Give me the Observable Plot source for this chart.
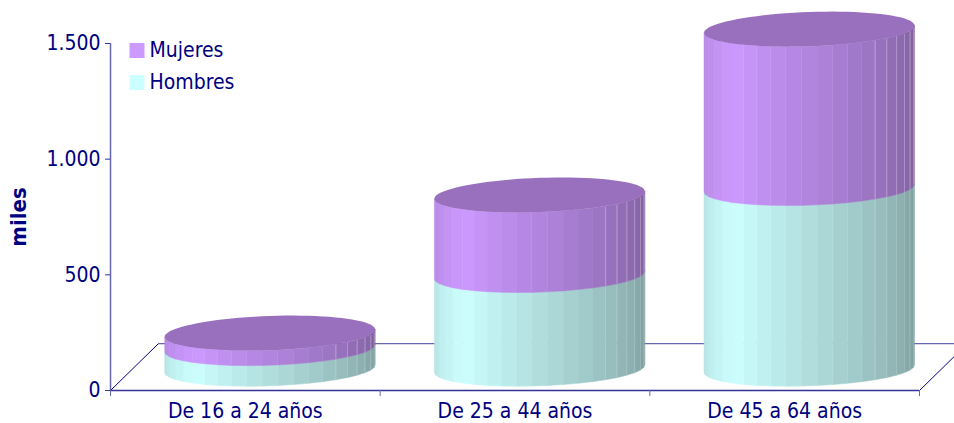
<!DOCTYPE html>
<html>
<head>
<meta charset="utf-8">
<script src="https://cdn.jsdelivr.net/npm/d3@7"></script>
<script src="https://cdn.jsdelivr.net/npm/@observablehq/plot@0.6"></script>
<style>html,body{margin:0;padding:0;background:#fff;overflow:hidden}svg{display:block}</style>
</head>
<body>
<div id="chart"></div>
<script>
const categories = ["De 16 a 24 años", "De 25 a 44 años", "De 45 a 64 años"];
const hombres = [89, 405, 781];
const mujeres = [65, 346, 687];
const yTicks = [0, 500, 1000, 1500];
const seriesNames = ["Mujeres", "Hombres"];
const seriesColors = ["#CC99FF", "#CCFFFF"];
const yLabel = "miles";

// 3-D projection constants, in scale units
const depthX = 0.178, depthY = 203, radius = 0.39, floorLift = 92, ry = 74, skew = 16, faces = 21;
const font = "'DejaVu Sans Condensed', 'DejaVu Sans', sans-serif";
const ink = "#000080", axisInk = "#6666b3";

const shadeAt = (t) => t <= 135 ? 0.6 + 0.4 * t / 135 : 1 - 0.12 * (t - 135) / 45;
const scaleColor = (hex, k) => { const c = d3.rgb(hex); return d3.rgb(c.r * k, c.g * k, c.b * k).formatHex(); };
const cx = (i) => i + 0.5 + 0.093;
const px = (i, deg) => cx(i) + radius * Math.cos(deg * Math.PI / 180);
const arcLow = (base, deg) => base + floorLift + skew * Math.cos(deg * Math.PI / 180) - ry * Math.sin(deg * Math.PI / 180);
const arcHigh = (base, deg) => base + floorLift + skew * Math.cos(deg * Math.PI / 180) + ry * Math.sin(deg * Math.PI / 180);

const segments = [];
const caps = [];
const seams = [];
categories.forEach((c, i) => {
  const layers = [
    {name: "h", from: 0, to: hombres[i], color: seriesColors[1], seam: 0.16},
    {name: "m", from: hombres[i], to: hombres[i] + mujeres[i], color: seriesColors[0], seam: 0.28}
  ];
  for (const L of layers) {
    for (let f = 0; f < faces; ++f) {
      const t0 = 180 * f / faces, t1 = 180 * (f + 1) / faces;
      const fill = scaleColor(L.color, shadeAt((t0 + t1) / 2));
      for (const t of [t0, t1]) {
        segments.push({key: `${i}${L.name}${f}`, x: px(i, t), y1: arcLow(L.from, t), y2: arcLow(L.to, t), fill});
      }
      if (f > 0 && t0 < 60) seams.push({x: px(i, t0), y1: arcLow(L.from, t0), y2: arcLow(L.to, t0), o: L.seam});
    }
  }
  const top = hombres[i] + mujeres[i];
  for (let f = 0; f <= faces * 2; ++f) {
    const t = 180 * f / (faces * 2);
    caps.push({key: i, x: px(i, t), y1: arcLow(top, t), y2: arcHigh(top, t)});
  }
});

const legendMarks = seriesNames.flatMap((name, i) => [
  Plot.dot([name], {frameAnchor: "top-left", dx: 26.5, dy: 7 + 32 * i, symbol: "square", r: 8.46, fill: seriesColors[i], stroke: "none"}),
  Plot.text([name], {frameAnchor: "top-left", dx: 39, dy: 7 + 32 * i, text: (d) => d, textAnchor: "start", lineAnchor: "middle", fill: ink, fontSize: 21, fontFamily: font})
]);

const chart = Plot.plot({
  width: 954, height: 423,
  marginLeft: 110, marginRight: 35, marginTop: 43, marginBottom: 33,
  style: {background: "#fff", overflow: "hidden"},
  x: {domain: [0, 3], axis: null},
  y: {domain: [0, 1500], axis: null},
  marks: [
    // floor edges
    Plot.link([0, 3], {x1: (d) => d, y1: () => 0, x2: (d) => d + depthX, y2: () => depthY, stroke: ink, strokeWidth: 1}),
    Plot.ruleY([depthY], {x1: () => depthX, x2: () => 3 + depthX, stroke: axisInk, strokeWidth: 1.3}),
    // axes
    Plot.ruleX([0], {y1: () => 0, y2: () => 1500, stroke: axisInk, strokeWidth: 1.5}),
    Plot.ruleY([0], {x1: () => 0, x2: () => 3, stroke: "#333399", strokeWidth: 1.5}),
    Plot.axisY({ticks: yTicks, tickSize: 5, tickPadding: 5, stroke: "#333399", label: null, tickFormat: (d) => d3.format(",")(d).replace(",", "."), color: ink, fontSize: 21, fontFamily: font}),
    Plot.axisX({ticks: [0, 1, 2, 3], tickSize: 6, tickFormat: () => "", stroke: axisInk, label: null}),
    Plot.axisX({ticks: [0.5, 1.5, 2.5], tickSize: 0, tickPadding: 13, tickFormat: (d) => categories[Math.floor(d)], color: ink, fontSize: 21, fontFamily: font, label: null}),
    Plot.text([yLabel], {frameAnchor: "left", dx: -92, rotate: -90, textAnchor: "middle", text: (d) => d, fill: ink, fontSize: 22, fontWeight: "bold", fontFamily: font}),
    // cylinders
    Plot.area(segments, {x1: "x", y1: "y1", y2: "y2", z: "key", fill: {value: "fill", scale: null}, stroke: {value: "fill", scale: null}, strokeWidth: 0.5}),
    Plot.link(seams, {x1: "x", x2: "x", y1: "y1", y2: "y2", stroke: "#fff", strokeOpacity: "o", strokeWidth: 1}),
    Plot.area(caps, {x1: "x", y1: "y1", y2: "y2", z: "key", fill: "#9970BD"}),
    ...legendMarks
  ]
});
document.getElementById("chart").append(chart);
</script>
</body>
</html>
